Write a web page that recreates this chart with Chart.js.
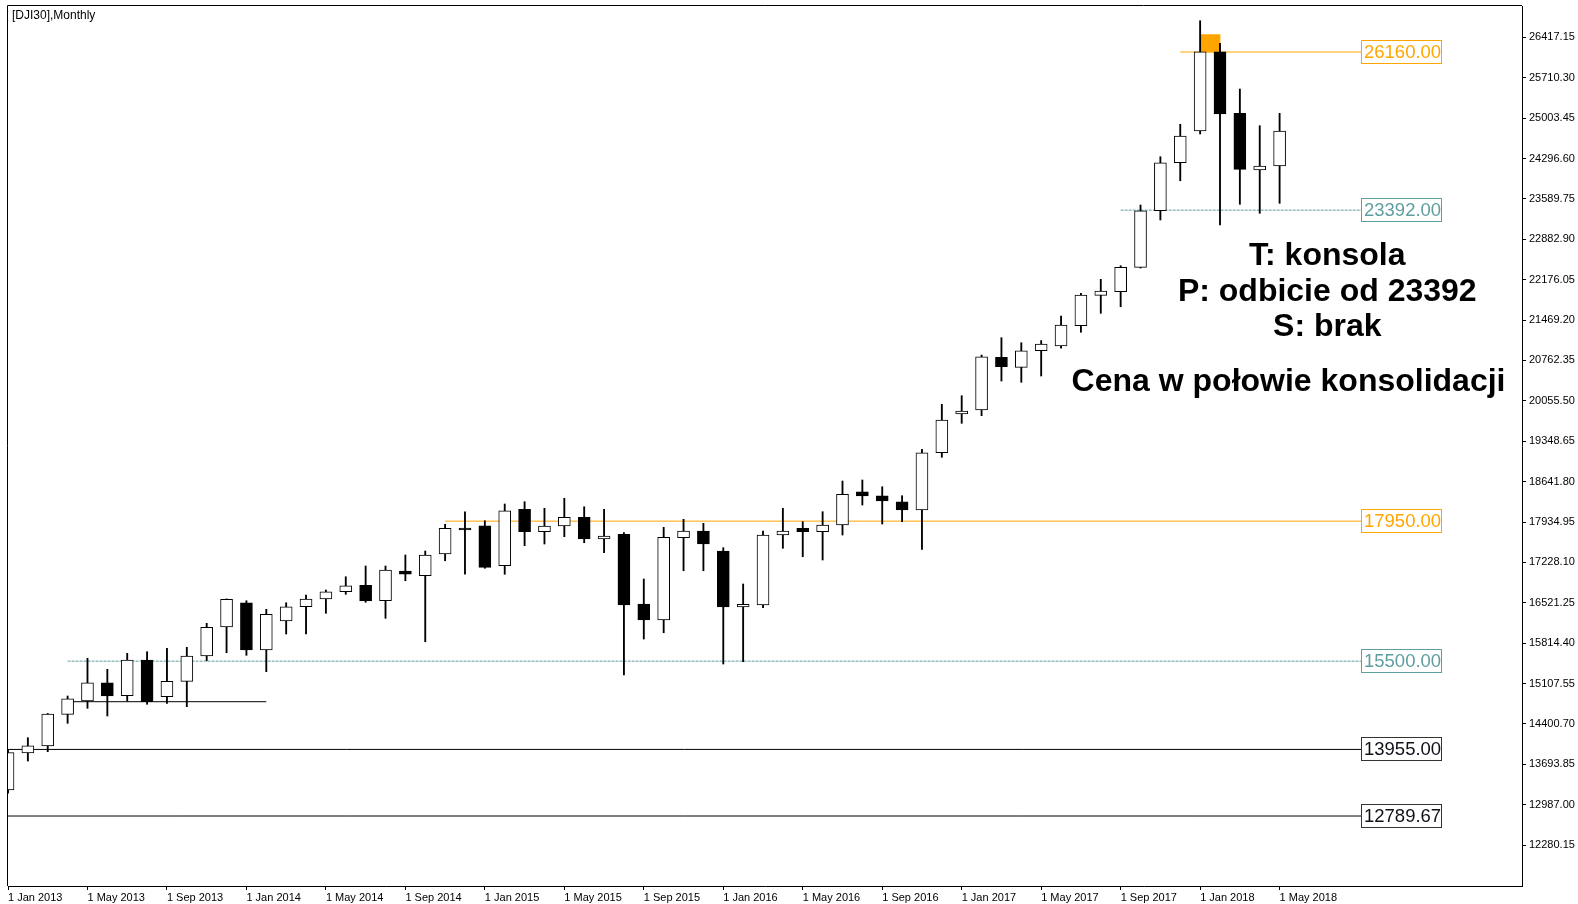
<!DOCTYPE html>
<html>
<head>
<meta charset="utf-8">
<title>DJI30 Monthly</title>
<script src="https://cdn.jsdelivr.net/npm/chart.js@4.4.1/dist/chart.umd.min.js"></script>
<style>
  html, body { margin: 0; padding: 0; background: #fff; }
  canvas { display: block; }
</style>
</head>
<body>
<canvas id="chart" width="1578" height="904"></canvas>
<script>
// miesięczne świece DJI30, Jan 2013 - May 2018
const opens  = [13245, 13892, 14015, 14569, 14802, 15122, 14895, 15520, 14878, 15147, 15590, 16097,
                16522, 15695, 16202, 16452, 16587, 16715, 16827, 16557, 17077, 16995, 17375, 17825,
                17870, 17170, 18157, 17765, 17865, 18017, 17637, 17720, 16500, 16220, 17662, 17777,
                17427, 16447, 16482, 17707, 17825, 17765, 17882, 18465, 18395, 18290, 18145, 19147,
                19825, 19895, 20817, 20642, 20932, 21015, 21370, 21902, 21965, 22392, 23382, 24222,
                24777, 26165, 25087, 24095, 24165];
const highs  = [13955, 14160, 14585, 14890, 15550, 15357, 15637, 15665, 15725, 15742, 16162, 16590,
                16557, 16407, 16522, 16657, 16745, 16977, 17165, 17165, 17357, 17427, 17895, 18115,
                17957, 18250, 18290, 18175, 18350, 18202, 18157, 17750, 16937, 17842, 17982, 17912,
                17485, 16850, 17777, 18175, 17940, 18115, 18652, 18670, 18552, 18395, 19207, 19995,
                20145, 20857, 21160, 21072, 21110, 21540, 21937, 22182, 22420, 23482, 24327, 24895,
                26707, 26312, 25512, 24870, 25087];
const lows   = [13190, 13752, 13915, 14412, 14675, 14540, 14802, 14745, 14762, 14703, 15507, 15647,
                15602, 15315, 15975, 15975, 16337, 16670, 16530, 16250, 16907, 15840, 17257, 17020,
                17125, 17020, 17520, 17550, 17678, 17572, 17397, 15257, 15887, 15997, 17082, 17082,
                15450, 15490, 16435, 17475, 17327, 17270, 17707, 18232, 17900, 17940, 17457, 19067,
                19662, 19795, 20402, 20380, 20490, 20975, 21255, 21587, 21702, 22380, 23220, 23907,
                24725, 23132, 23495, 23337, 23512];
const closes = [13898, 14020, 14575, 14842, 15122, 14890, 15520, 14790, 15147, 15590, 16092, 16582,
                15695, 16320, 16452, 16587, 16715, 16820, 16552, 17095, 17020, 17357, 17825, 17795,
                17142, 18132, 17765, 17865, 18017, 17637, 17690, 16482, 16220, 17667, 17777, 17550,
                16447, 16495, 17707, 17777, 17765, 17882, 18420, 18390, 18302, 18145, 19147, 19720,
                19877, 20827, 20652, 20932, 21050, 21382, 21907, 21977, 22392, 23382, 24222, 24690,
                26165, 25075, 24107, 24165, 24777];

const xTickIndex  = [0, 4, 8, 12, 16, 20, 24, 28, 32, 36, 40, 44, 48, 52, 56, 60, 64];
const xTickLabels = ['1 Jan 2013', '1 May 2013', '1 Sep 2013', '1 Jan 2014', '1 May 2014', '1 Sep 2014',
                     '1 Jan 2015', '1 May 2015', '1 Sep 2015', '1 Jan 2016', '1 May 2016', '1 Sep 2016',
                     '1 Jan 2017', '1 May 2017', '1 Sep 2017', '1 Jan 2018', '1 May 2018'];
const yTicks = [12280.15, 12987.00, 13693.85, 14400.70, 15107.55, 15814.40, 16521.25, 17228.10,
                17934.95, 18641.80, 19348.65, 20055.50, 20762.35, 21469.20, 22176.05, 22882.90,
                23589.75, 24296.60, 25003.45, 25710.30, 26417.15];

// poziomy wsparcia / oporu
const levelPrices = [26160.00, 23392.00, 17950.00, 15500.00, 13955.00, 12789.67];
const levelStart  = [59, 56, 22, 3, 0, 0];
const levelEnd    = 68.1;
const levelColors = ['#ffa500', '#5f9ea0', '#ffa500', '#5f9ea0', '#000000', '#000000'];

// linia pod konsolidacją 2013
const trendPrice = 14790;
const trendFrom = 3;
const trendTo = 13;

// prostokąt na szczycie (Jan 2018)
const zoneFrom = 60, zoneTo = 61;
const zoneLow = 26160, zoneHigh = 26465;

const title = '[DJI30],Monthly';
const notes = ['T: konsola', 'P: odbicie od 23392', 'S: brak'];
const noteAnchor = { x: 66.4, y: 22432 };
const conclusion = 'Cena w połowie konsolidacji';
const conclusionAnchor = { x: 64.45, y: 20225 };

const FONT = '"Liberation Sans", Arial, sans-serif';

const bodies = opens.map((o, i) => ({ x: i, y: [o, closes[i]] }));
const wicks = lows.map((l, i) => ({ x: i, y: [l, highs[i]] }));
const bull = opens.map((o, i) => closes[i] >= o);

const datasets = [];
levelPrices.forEach((p, i) => {
    datasets.push({
        type: 'line',
        data: [{ x: levelStart[i], y: p }, { x: levelEnd, y: p }],
        borderColor: levelColors[i],
        borderWidth: 1,
        borderDash: levelColors[i] === '#5f9ea0' ? [3, 1] : [],
        pointRadius: 0,
        order: 5
    });
});
datasets.push({
    type: 'line',
    data: [{ x: trendFrom, y: trendPrice }, { x: trendTo, y: trendPrice }],
    borderColor: '#000',
    borderWidth: 1,
    pointRadius: 0,
    order: 5
});
datasets.push({
    type: 'bar',
    data: [{ x: (zoneFrom + zoneTo) / 2, y: [zoneLow, zoneHigh] }],
    backgroundColor: '#ffa500',
    borderWidth: 0,
    barThickness: 20,
    grouped: false,
    order: 4
});
datasets.push({
    type: 'bar',
    data: wicks,
    backgroundColor: '#000',
    borderWidth: 0,
    barThickness: 1.2,
    grouped: false,
    order: 2
});
datasets.push({
    type: 'bar',
    data: bodies,
    backgroundColor: bull.map(b => b ? '#ffffff' : '#000000'),
    borderColor: '#000',
    borderWidth: 1,
    borderSkipped: false,
    barThickness: 12,
    minBarLength: 2,
    grouped: false,
    order: 1
});

const overlay = {
    id: 'overlay',
    beforeDraw(chart) {
        const ctx = chart.ctx;
        ctx.save();
        ctx.fillStyle = '#fff';
        ctx.fillRect(0, 0, chart.width, chart.height);
        ctx.restore();
    },
    afterDraw(chart) {
        const { ctx, chartArea } = chart;
        const xs = chart.scales.x, ys = chart.scales.y;
        ctx.save();

        // ramka
        ctx.strokeStyle = '#000';
        ctx.lineWidth = 1;
        ctx.beginPath();
        ctx.moveTo(chartArea.left - 0.5, chartArea.bottom);
        ctx.lineTo(chartArea.left - 0.5, chartArea.top - 0.5);
        ctx.lineTo(chartArea.right, chartArea.top - 0.5);
        ctx.stroke();

        ctx.fillStyle = '#000';
        ctx.font = '12px ' + FONT;
        ctx.textAlign = 'left';
        ctx.textBaseline = 'alphabetic';
        ctx.fillText(title, chartArea.left + 4, chartArea.top + 13);

        // etykiety poziomów
        ctx.font = '18.5px ' + FONT;
        ctx.textBaseline = 'middle';
        levelPrices.forEach((p, i) => {
            const px = Math.round(xs.getPixelForValue(levelEnd));
            const py = Math.round(ys.getPixelForValue(p));
            ctx.fillStyle = '#fff';
            ctx.fillRect(px, py - 12, 81, 24);
            ctx.strokeStyle = levelColors[i] === '#000000' ? '#333' : levelColors[i];
            ctx.strokeRect(px + 0.5, py - 11.5, 80, 23);
            ctx.fillStyle = levelColors[i] === '#000000' ? '#10101a' : levelColors[i];
            ctx.fillText(p.toFixed(2), px + 3, py + 1);
        });

        // komentarz
        ctx.fillStyle = '#000';
        ctx.font = 'bold 32px ' + FONT;
        ctx.textAlign = 'center';
        ctx.textBaseline = 'alphabetic';
        const nx = xs.getPixelForValue(noteAnchor.x);
        const ny = ys.getPixelForValue(noteAnchor.y);
        notes.forEach((t, i) => ctx.fillText(t, nx, ny + i * 35.5));
        ctx.fillText(conclusion, xs.getPixelForValue(conclusionAnchor.x), ys.getPixelForValue(conclusionAnchor.y));

        ctx.restore();
    }
};

new Chart(document.getElementById('chart'), {
    type: 'bar',
    data: { datasets: datasets },
    plugins: [overlay],
    options: {
        responsive: false,
        animation: false,
        layout: { padding: { left: 8, top: 6, right: 0, bottom: 0 } },
        plugins: {
            legend: { display: false },
            tooltip: { enabled: false }
        },
        scales: {
            x: {
                type: 'linear',
                min: 0,
                max: 76.2,
                offset: false,
                grid: { drawOnChartArea: false, offset: false, tickLength: 4, color: '#000' },
                border: { display: true, color: '#000' },
                ticks: {
                    align: 'start',
                    padding: 1,
                    maxRotation: 0,
                    autoSkip: false,
                    color: '#000',
                    font: { family: FONT, size: 11 },
                    callback: v => xTickLabels[xTickIndex.indexOf(v)]
                },
                afterBuildTicks: s => { s.ticks = xTickIndex.map(v => ({ value: v })); },
                afterFit: s => { s.height = 18; s.paddingLeft = 0; s.paddingRight = 0; }
            },
            y: {
                type: 'linear',
                position: 'right',
                min: 11565,
                max: 26965,
                grid: { drawOnChartArea: false, tickLength: 4, color: '#000' },
                border: { display: true, color: '#000' },
                ticks: {
                    padding: 3,
                    color: '#000',
                    font: { family: FONT, size: 11 },
                    callback: v => v.toFixed(2)
                },
                afterBuildTicks: s => { s.ticks = yTicks.map(v => ({ value: v })); },
                afterFit: s => { s.width = 56; s.paddingTop = 0; s.paddingBottom = 0; }
            }
        }
    }
});
</script>
</body>
</html>
